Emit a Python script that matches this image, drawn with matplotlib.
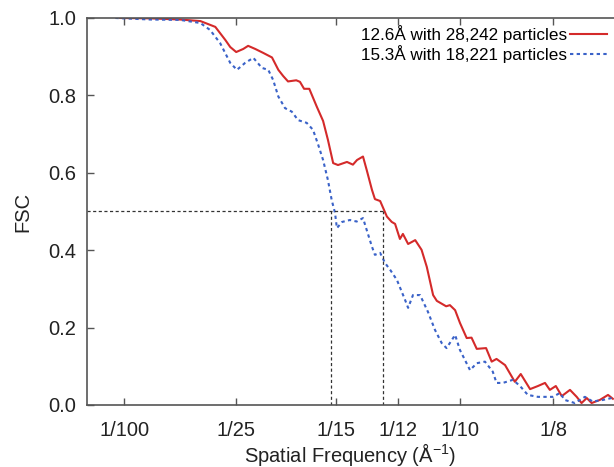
import matplotlib
matplotlib.use("Agg")
import matplotlib.pyplot as plt

plt.rcParams['font.family'] = ['Liberation Sans', 'DejaVu Sans']
plt.rcParams['mathtext.default'] = 'regular'

# spatial frequency (1/A) and FSC
freq_a = [0.0089, 0.0170, 0.0250, 0.0304, 0.0344, 0.0371, 0.0384, 0.0400, 0.0419,
          0.0432, 0.0451, 0.0472, 0.0496, 0.0513, 0.0526, 0.0539, 0.0561, 0.0571,
          0.0582, 0.0596, 0.0616, 0.0633, 0.0646, 0.0660, 0.0673, 0.0697, 0.0713,
          0.0724, 0.0740, 0.0750, 0.0764, 0.0772, 0.0786, 0.0804, 0.0817, 0.0826,
          0.0839, 0.0847, 0.0861, 0.0880, 0.0897, 0.0911, 0.0928, 0.0938, 0.0963,
          0.0973, 0.0987, 0.1000, 0.1018, 0.1031, 0.1045, 0.1070, 0.1085, 0.1098,
          0.1121, 0.1147, 0.1163, 0.1188, 0.1209, 0.1228, 0.1241, 0.1257, 0.1273,
          0.1295, 0.1313, 0.1326, 0.1340, 0.1353, 0.1375, 0.1397, 0.1410]
fsc_a = [1.000, 0.999, 0.996, 0.992, 0.977, 0.943, 0.925, 0.912, 0.920,
         0.928, 0.920, 0.910, 0.898, 0.866, 0.850, 0.836, 0.839, 0.835,
         0.817, 0.817, 0.771, 0.734, 0.685, 0.625, 0.620, 0.628, 0.621,
         0.633, 0.642, 0.607, 0.556, 0.532, 0.527, 0.487, 0.473, 0.468,
         0.429, 0.442, 0.416, 0.426, 0.401, 0.357, 0.284, 0.269, 0.255,
         0.258, 0.245, 0.212, 0.173, 0.174, 0.145, 0.147, 0.112, 0.119,
         0.103, 0.060, 0.080, 0.041, 0.049, 0.057, 0.039, 0.049, 0.023,
         0.039, 0.021, 0.005, 0.018, 0.005, 0.013, 0.026, 0.016]

freq_b = [0.0076, 0.0170, 0.0250, 0.0304, 0.0330, 0.0357, 0.0384, 0.0402, 0.0424,
          0.0446, 0.0469, 0.0486, 0.0499, 0.0513, 0.0531, 0.0549, 0.0566, 0.0589,
          0.0606, 0.0620, 0.0633, 0.0646, 0.0656, 0.0665, 0.0670, 0.0684, 0.0705,
          0.0723, 0.0740, 0.0750, 0.0764, 0.0772, 0.0786, 0.0799, 0.0813, 0.0831,
          0.0853, 0.0861, 0.0874, 0.0893, 0.0914, 0.0933, 0.0951, 0.0964, 0.0987,
          0.1000, 0.1027, 0.1045, 0.1067, 0.1088, 0.1098, 0.1115, 0.1142, 0.1161,
          0.1182, 0.1209, 0.1249, 0.1268, 0.1281, 0.1308, 0.1335, 0.1356, 0.1383,
          0.1407]
fsc_b = [1.000, 0.996, 0.995, 0.987, 0.969, 0.935, 0.884, 0.866, 0.884,
         0.897, 0.871, 0.866, 0.840, 0.797, 0.767, 0.758, 0.736, 0.729,
         0.711, 0.672, 0.633, 0.581, 0.530, 0.496, 0.457, 0.473, 0.478,
         0.474, 0.483, 0.452, 0.409, 0.388, 0.393, 0.367, 0.349, 0.323,
         0.271, 0.251, 0.284, 0.284, 0.241, 0.194, 0.160, 0.147, 0.181,
         0.142, 0.090, 0.108, 0.112, 0.086, 0.057, 0.057, 0.065, 0.049,
         0.026, 0.021, 0.021, 0.031, 0.013, 0.005, 0.021, 0.009, 0.013,
         0.018]

labels = ['12.6Å with 28,242 particles', '15.3Å with 18,221 particles']
resolutions = [15.3, 12.6]
tick_res = [100, 25, 15, 12, 10, 8]

fig = plt.figure(figsize=(6.14, 4.67), dpi=100)
ax = fig.add_axes([0.1417, 0.1328, 0.8583, 0.8287])

ax.plot(freq_a, fsc_a, color='#d42a2a', lw=1.5, label=labels[0])
ax.plot(freq_b, fsc_b, color='#3a62c8', lw=1.5, ls=(0, (1.6, 1.6)), label=labels[1])

# 0.5 threshold lines
guide = dict(color='#333333', lw=0.9, ls=(0, (2.5, 2)))
ax.plot([0, 1 / min(resolutions)], [0.5, 0.5], **guide)
for r in resolutions:
    ax.plot([1 / r, 1 / r], [0, 0.5], **guide)

ax.set_xlim(0, 0.1413)
ax.set_ylim(0, 1.0)
ax.set_xticks([1 / t for t in tick_res])
ax.set_xticklabels([f'1/{t}' for t in tick_res])
ax.set_yticks([0, 0.2, 0.4, 0.6, 0.8, 1.0])
ax.set_yticklabels(['0.0', '0.2', '0.4', '0.6', '0.8', '1.0'])
ax.tick_params(direction='in', length=5, width=1, color='#555555',
               labelsize=14.5, labelcolor='#222222', top=True)
ax.tick_params(axis='x', pad=11.5)
ax.tick_params(axis='y', pad=8)
ax.spines['right'].set_visible(False)
for s in ['left', 'bottom', 'top']:
    ax.spines[s].set_color('#555555')
    ax.spines[s].set_linewidth(1.2)

ax.set_xlabel('Spatial Frequency (Å$^{-1}$)', fontsize=14.5, color='#222222', labelpad=0.5)
ax.set_ylabel('FSC', fontsize=14.5, color='#222222', labelpad=11)

ax.legend(loc='upper right', frameon=False, markerfirst=False, fontsize=12.3,
          handlelength=2.2, handletextpad=0.15, labelspacing=0.12,
          borderaxespad=0.1, borderpad=0.3)

fig.savefig('out.png', dpi=100)
